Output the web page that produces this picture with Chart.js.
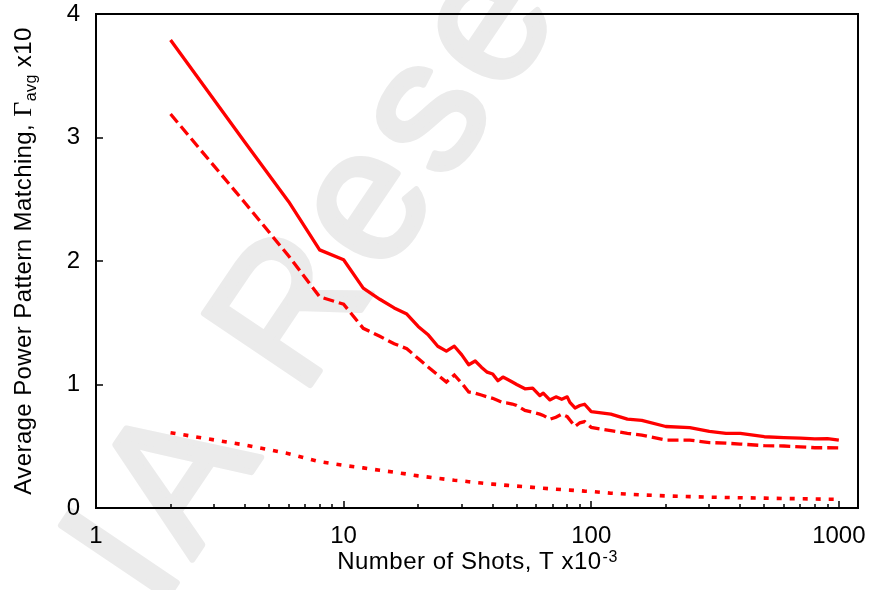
<!DOCTYPE html>
<html>
<head>
<meta charset="utf-8">
<script src="https://cdn.jsdelivr.net/npm/chart.js@4.4.1/dist/chart.umd.min.js"></script>
<style>
	html, body { margin: 0; padding: 0; background: #fff; }
	#wrap { position: relative; width: 874px; height: 590px; }
</style>
</head>
<body>
<div id="wrap"><canvas id="chart"></canvas></div>
<script>

// number of shots (x10^-3)
const shots = [2, 4, 6, 8, 10, 12, 14, 16, 18, 20, 22, 24, 26, 28, 30, 32, 34, 36, 38, 40,
	42, 44, 46, 48, 50, 54, 58, 62, 64, 68, 72, 76, 80, 82, 86, 90, 94, 100,
	120, 140, 160, 200, 250, 300, 350, 400, 500, 600, 700, 800, 900, 1000];

// average power pattern matching (x10)
const gammaSolid = [3.79, 2.96, 2.48, 2.09, 2.01, 1.78, 1.69, 1.62, 1.57, 1.47, 1.40, 1.31, 1.27, 1.31, 1.24, 1.16, 1.19, 1.14, 1.10, 1.085,
	1.03, 1.06, 1.04, 1.02, 1.00, 0.965, 0.97, 0.91, 0.93, 0.875, 0.90, 0.88, 0.90, 0.855, 0.81, 0.83, 0.84, 0.78,
	0.76, 0.72, 0.71, 0.66, 0.65, 0.62, 0.605, 0.605, 0.577, 0.57, 0.565, 0.56, 0.562, 0.55];

const gammaDashed = [3.19, 2.47, 2.04, 1.71, 1.65, 1.455, 1.39, 1.33, 1.29, 1.21, 1.14, 1.077, 1.02, 1.077, 1.01, 0.94, 0.93, 0.915, 0.90, 0.888,
	0.87, 0.853, 0.85, 0.842, 0.83, 0.79, 0.775, 0.76, 0.75, 0.718, 0.735, 0.76, 0.74, 0.713, 0.66, 0.69, 0.70, 0.653,
	0.626, 0.605, 0.59, 0.55, 0.55, 0.53, 0.525, 0.518, 0.505, 0.502, 0.495, 0.488, 0.488, 0.486];

const gammaDotted = [0.61, 0.51, 0.44, 0.375, 0.345, 0.325, 0.305, 0.29, 0.275, 0.26, 0.25, 0.24, 0.232, 0.225, 0.22, 0.213, 0.207, 0.202, 0.197, 0.193,
	0.19, 0.186, 0.183, 0.18, 0.177, 0.172, 0.167, 0.162, 0.16, 0.156, 0.152, 0.149, 0.146, 0.145, 0.142, 0.14, 0.137, 0.134,
	0.12, 0.112, 0.106, 0.098, 0.092, 0.088, 0.085, 0.083, 0.08, 0.077, 0.075, 0.073, 0.071, 0.07];

const xDecades = [1, 10, 100, 1000];
const yMajor = [0, 1, 2, 3, 4];

const RED = '#ff0000';
const FONT = '"Liberation Sans", Arial, sans-serif';


function points(ys) {
	return shots.map(function(x, i) {
		return {x: x, y: ys[i]};
	});
}


// faint publisher mark behind everything
const watermark = {
	id: 'watermark',
	beforeDraw(chart) {
		const ctx = chart.ctx;
		const ang = -56 * Math.PI / 180;

		ctx.save();
		ctx.font = '186px ' + FONT;
		ctx.letterSpacing = '10px';
		ctx.fillStyle = '#ebebeb';
		ctx.strokeStyle = '#ebebeb';
		ctx.lineWidth = 6;
		ctx.lineJoin = 'round';
		const lead = ctx.measureText('I').width;
		ctx.translate(192 - lead * Math.cos(ang), 560 - lead * Math.sin(ang));
		ctx.rotate(ang);
		ctx.textBaseline = 'alphabetic';
		ctx.fillText('IA Rese', 0, 0);
		ctx.strokeText('IA Rese', 0, 0);
		ctx.restore();
	}
};


// frame, inward tick marks and axis titles with sub/superscripts
const frame = {
	id: 'frame',
	afterDraw(chart) {
		const ctx = chart.ctx;
		const area = chart.chartArea;
		const xs = chart.scales.x;
		const ys = chart.scales.y;

		ctx.save();
		ctx.strokeStyle = '#000';

		ctx.lineWidth = 1.5;
		ctx.beginPath();
		xDecades.forEach(function(d, i) {
			const px = Math.round(xs.getPixelForValue(d));
			ctx.moveTo(px, area.bottom);
			ctx.lineTo(px, area.bottom - 7);
			if(i < xDecades.length - 1) {
				for(let k = 2; k < 10; k++) {
					const mx = Math.round(xs.getPixelForValue(k * d));
					ctx.moveTo(mx, area.bottom);
					ctx.lineTo(mx, area.bottom - 4);
				}
			}
		});
		yMajor.forEach(function(v) {
			const py = Math.round(ys.getPixelForValue(v));
			ctx.moveTo(area.left, py);
			ctx.lineTo(area.left + 7, py);
		});
		ctx.stroke();

		ctx.lineWidth = 2;
		ctx.strokeRect(area.left, area.top, area.right - area.left, area.bottom - area.top);

		ctx.fillStyle = '#000';
		ctx.textBaseline = 'alphabetic';

		// x title: Number of Shots, T x10^-3
		const xMain = 'Number of Shots, T x10';
		const xSup = '-3';
		ctx.letterSpacing = '0.5px';
		ctx.font = '24px ' + FONT;
		const wMain = ctx.measureText(xMain).width;
		ctx.font = '16px ' + FONT;
		const wSup = ctx.measureText(xSup).width;
		const tx = (area.left + area.right) / 2 - (wMain + wSup) / 2;
		ctx.font = '24px ' + FONT;
		ctx.fillText(xMain, tx, 569);
		ctx.font = '16px ' + FONT;
		ctx.fillText(xSup, tx + wMain + 1, 562);

		// y title: Average Power Pattern Matching, Γavg x10
		const parts = [
			{t: 'Average Power Pattern Matching, ', f: '24px ' + FONT, dy: 0},
			{t: 'Γ', f: '26px "Liberation Serif", serif', dy: 0},
			{t: 'avg', f: '16px ' + FONT, dy: 5},
			{t: ' x10', f: '24px ' + FONT, dy: 0}
		];
		ctx.letterSpacing = '0.4px';
		let total = 0;
		parts.forEach(function(p) {
			ctx.font = p.f;
			p.w = ctx.measureText(p.t).width;
			total += p.w;
		});
		ctx.translate(31, (area.top + area.bottom) / 2);
		ctx.rotate(-Math.PI / 2);
		let ty = -total / 2;
		parts.forEach(function(p) {
			ctx.font = p.f;
			ctx.fillText(p.t, ty, p.dy);
			ty += p.w;
		});

		ctx.restore();
	}
};


const config = {
	type: 'line',
	data: {
		datasets: [
			{
				label: 'Solid',
				data: points(gammaSolid),
				borderColor: RED,
				borderWidth: 3.3,
				borderJoinStyle: 'round',
				pointRadius: 0
			},
			{
				label: 'Dashed',
				data: points(gammaDashed),
				borderColor: RED,
				borderWidth: 3.3,
				borderDash: [11, 5],
				pointRadius: 0
			},
			{
				label: 'Dotted',
				data: points(gammaDotted),
				borderColor: RED,
				borderWidth: 3.6,
				borderDash: [5, 8],
				borderCapStyle: 'butt',
				pointRadius: 0
			}
		]
	},
	options: {
		responsive: true,
		maintainAspectRatio: false,
		animation: false,
		layout: {
			padding: {left: 0, top: 14, right: 16, bottom: 0}
		},
		plugins: {
			legend: {display: false},
			tooltip: {enabled: false}
		},
		scales: {
			x: {
				type: 'logarithmic',
				position: 'bottom',
				min: 1,
				max: 1195,
				grid: {display: false, drawTicks: false},
				border: {display: false},
				afterBuildTicks(scale) {
					scale.ticks = xDecades.map(function(v) { return {value: v}; });
				},
				afterFit(scale) {
					scale.height = 82;
					scale.paddingLeft = 0;
					scale.paddingRight = 0;
				},
				ticks: {
					autoSkip: false,
					maxRotation: 0,
					padding: 14,
					color: '#000',
					font: {family: FONT, size: 24},
					callback(value) {
						return String(value);
					}
				}
			},
			y: {
				type: 'linear',
				min: 0,
				max: 4,
				grid: {display: false, drawTicks: false},
				border: {display: false},
				afterFit(scale) {
					scale.width = 96;
					scale.paddingTop = 0;
					scale.paddingBottom = 0;
				},
				ticks: {
					stepSize: 1,
					padding: 16,
					color: '#000',
					font: {family: FONT, size: 24}
				}
			}
		}
	},
	plugins: [watermark, frame]
};

new Chart(document.getElementById('chart'), config);

</script>
</body>
</html>
